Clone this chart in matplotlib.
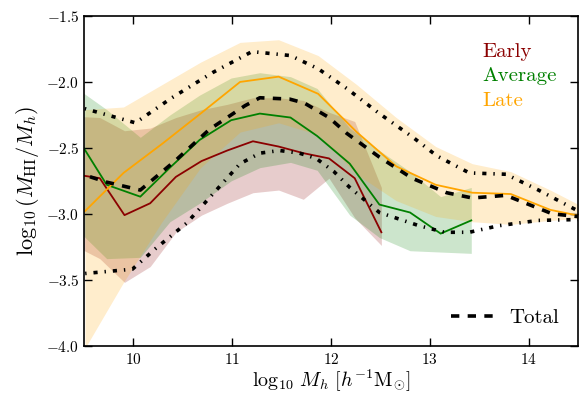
import numpy as np
import matplotlib
matplotlib.use("Agg")
import matplotlib.pyplot as plt

# HI-to-halo mass ratio vs halo mass, split by formation time
plt.rcParams["mathtext.fontset"] = "cm"
plt.rcParams["font.family"] = "serif"
plt.rcParams["font.serif"] = ["cmr10"]
plt.rcParams["axes.formatter.use_mathtext"] = True
plt.rcParams["lines.scale_dashes"] = False

# Early-forming haloes
early_x = [9.40, 9.66, 9.91, 10.17, 10.43, 10.69, 10.95, 11.21, 11.47, 11.72, 11.98, 12.24, 12.51]
early_med = [-2.70, -2.73, -3.01, -2.92, -2.72, -2.60, -2.52, -2.45, -2.49, -2.54, -2.58, -2.73, -3.14]
early_hi = [-2.26, -2.27, -2.37, -2.35, -2.27, -2.21, -2.17, -2.12, -2.12, -2.14, -2.23, -2.30, -2.80]
early_lo = [-3.24, -3.34, -3.52, -3.40, -3.14, -3.01, -2.92, -2.84, -2.82, -2.89, -2.73, -3.03, -3.24]

# Average haloes
avg_x = [9.43, 9.73, 10.07, 10.37, 10.67, 10.99, 11.28, 11.59, 11.86, 12.19, 12.49, 12.80, 13.11, 13.42]
avg_med = [-2.42, -2.78, -2.87, -2.65, -2.44, -2.29, -2.24, -2.27, -2.41, -2.62, -2.93, -2.99, -3.15, -3.05]
avg_hi = [-2.05, -2.21, -2.42, -2.25, -2.10, -1.97, -1.93, -1.96, -2.05, -2.35, -2.52, -2.68, -2.87, -2.80]
avg_lo = [-3.12, -3.34, -3.33, -3.06, -2.92, -2.75, -2.65, -2.61, -2.67, -3.01, -3.18, -3.28, -3.29, -3.30]

# Late-forming haloes
late_x = [9.51, 9.90, 10.29, 10.68, 11.08, 11.47, 11.87, 12.26, 12.66, 13.06, 13.43, 13.82, 14.22, 14.61]
late_med = [-2.98, -2.69, -2.47, -2.24, -2.00, -1.96, -2.09, -2.38, -2.64, -2.78, -2.84, -2.85, -2.97, -3.03]
late_hi = [-2.21, -2.19, -2.02, -1.85, -1.70, -1.68, -1.80, -2.02, -2.27, -2.49, -2.62, -2.68, -2.82, -2.97]
late_lo = [-4.02, -3.52, -3.06, -2.65, -2.38, -2.31, -2.40, -2.70, -2.90, -3.02, -3.06, -3.08, -3.05, -3.03]

# All haloes: median and percentile envelope
tot_x = [9.40, 9.73, 10.07, 10.42, 10.77, 11.13, 11.28, 11.58, 11.73, 11.98,
         12.16, 12.49, 12.82, 13.17, 13.43, 13.77, 14.24, 14.49, 14.71]
tot_med = [-2.68, -2.76, -2.82, -2.60, -2.36, -2.18, -2.12, -2.13, -2.16, -2.27,
           -2.39, -2.57, -2.73, -2.84, -2.88, -2.86, -3.00, -3.02, -3.03]

tot_hi_x = [9.40, 10.02, 10.39, 10.80, 11.20, 11.59, 11.87, 12.16, 12.49, 12.83,
            13.07, 13.40, 13.77, 14.10, 14.48, 14.71]
tot_hi = [-2.18, -2.31, -2.12, -1.93, -1.77, -1.80, -1.90, -2.05, -2.24, -2.42,
          -2.56, -2.69, -2.70, -2.82, -2.97, -3.06]

tot_lo_x = [9.40, 9.99, 10.23, 10.54, 11.08, 11.28, 11.48, 11.68, 11.85, 12.03,
            12.19, 12.49, 12.89, 13.15, 13.40, 13.70, 14.10, 14.71]
tot_lo = [-3.46, -3.42, -3.26, -3.07, -2.62, -2.54, -2.52, -2.54, -2.58, -2.68,
          -2.80, -2.99, -3.09, -3.14, -3.14, -3.09, -3.05, -3.04]

groups = [
    ("Early", "darkred", early_x, early_med, early_lo, early_hi),
    ("Average", "green", avg_x, avg_med, avg_lo, avg_hi),
    ("Late", "orange", late_x, late_med, late_lo, late_hi),
]

fig = plt.figure(figsize=(5.84, 3.93), dpi=100)
ax = fig.add_axes([0.1438, 0.1204, 0.8459, 0.8389])

for name, col, x, med, lo, hi in groups:
    ax.fill_between(x, lo, hi, color=col, alpha=0.2, linewidth=0)

group_lines = []
for name, col, x, med, lo, hi in groups:
    ln, = ax.plot(x, med, color=col, lw=1.3, label=name)
    group_lines.append(ln)

total_line, = ax.plot(tot_x, tot_med, color="k", lw=2.6, dashes=(6, 6), label="Total")
ax.plot(tot_hi_x, tot_hi, color="k", lw=2.6, dashes=(3, 5, 1, 5))
ax.plot(tot_lo_x, tot_lo, color="k", lw=2.6, dashes=(3, 5, 1, 5))

ax.set_xlim(9.5, 14.5)
ax.set_ylim(-4.0, -1.5)
ax.set_xticks([10, 11, 12, 13, 14])
ax.set_yticks([-4.0, -3.5, -3.0, -2.5, -2.0, -1.5])
ax.tick_params(direction="in", top=True, right=True, length=6, width=1, labelsize=11)
ax.tick_params(axis="x", pad=4.5)
for sp in ax.spines.values():
    sp.set_linewidth(1.2)

ax.set_xlabel(r"$\log_{10}\,M_h\ [h^{-1}{\rm M}_{\odot}]$", fontsize=14.5)
ax.xaxis.set_label_coords(0.5, -0.066)
ax.set_ylabel(r"$\log_{10}(M_{\rm HI}/M_h)$", fontsize=16)

leg1 = ax.legend(handles=group_lines, loc="upper left", bbox_to_anchor=(0.79, 0.945),
                 frameon=False, handlelength=0, handletextpad=0, fontsize=15,
                 labelspacing=0.28, borderaxespad=0)
for h in leg1.legend_handles:
    h.set_visible(False)
for txt, (name, col, *_rest) in zip(leg1.get_texts(), groups):
    txt.set_color(col)
ax.add_artist(leg1)

ax.legend(handles=[total_line], loc="lower right", frameon=False, fontsize=15)

fig.savefig("out.png", dpi=100)
